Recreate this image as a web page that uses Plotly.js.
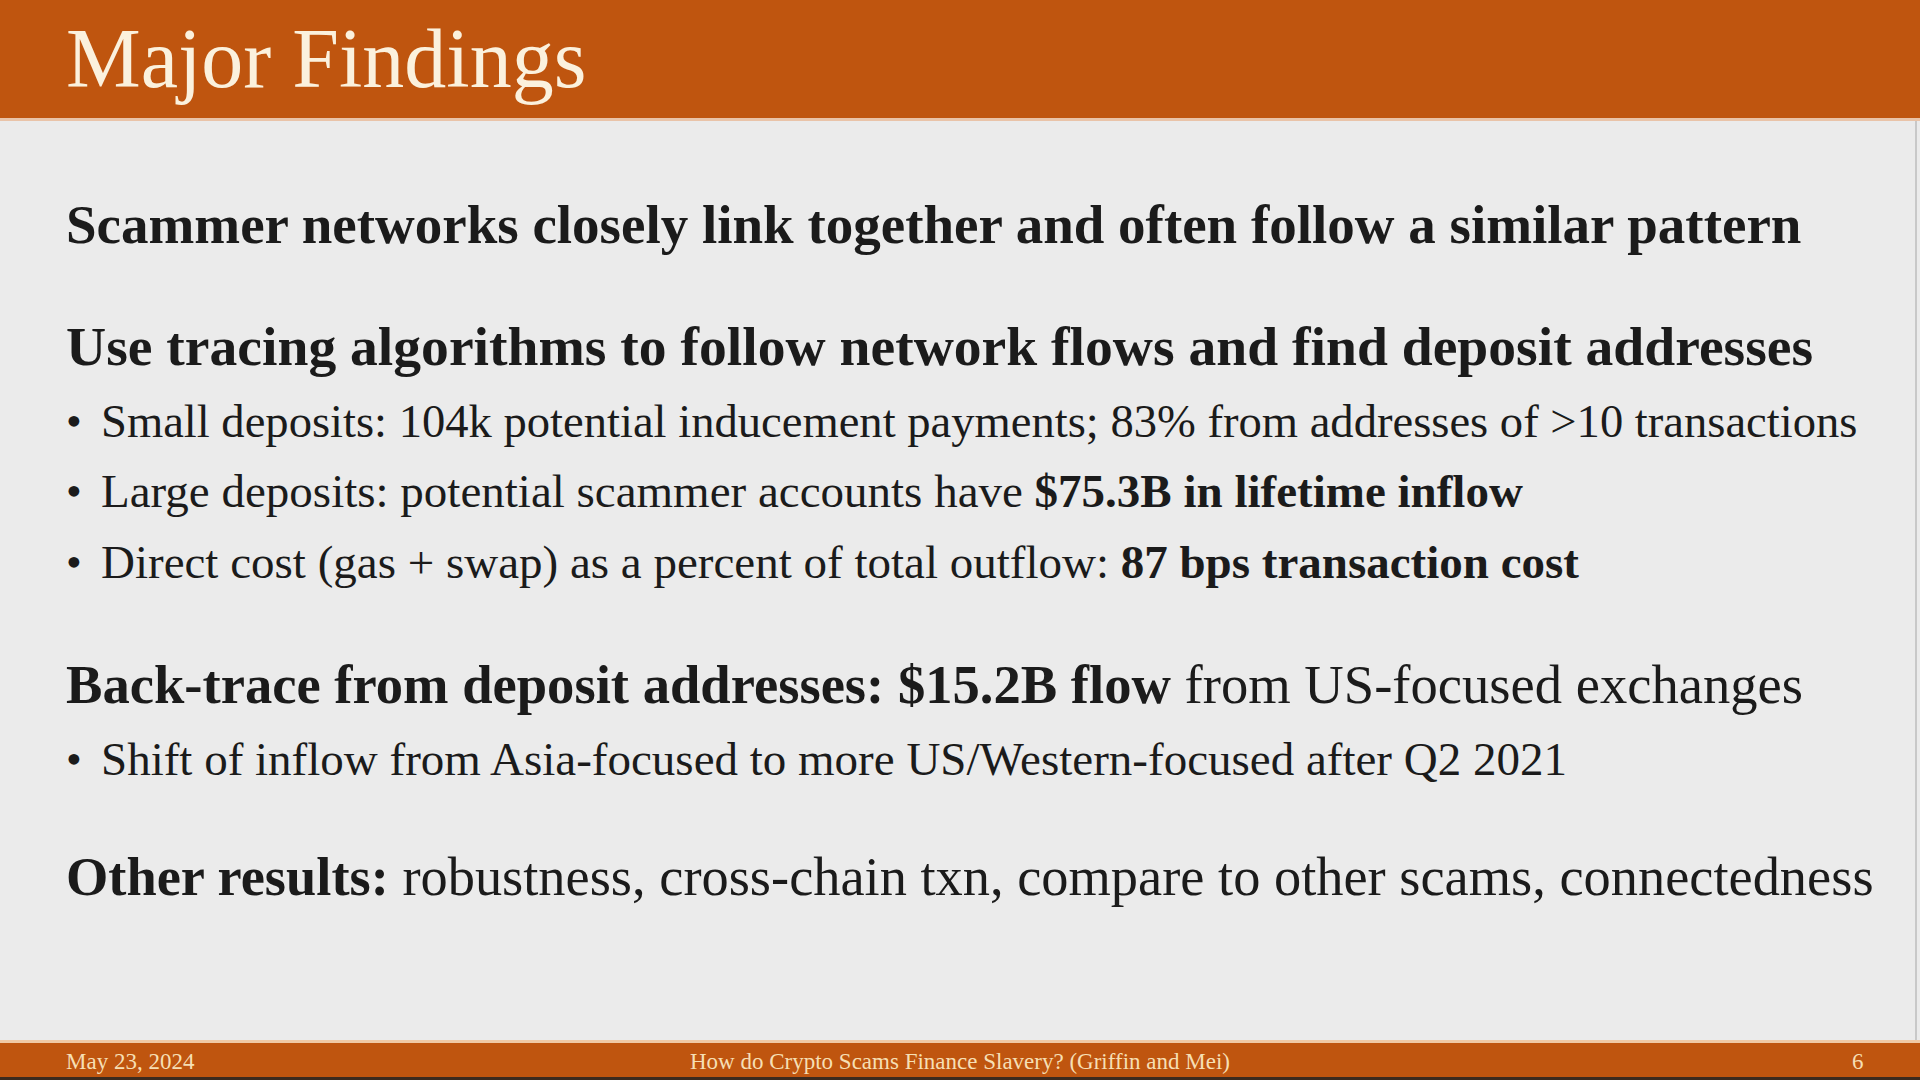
<!DOCTYPE html>
<html>
<head>
<meta charset="utf-8">
<script src="https://cdn.plot.ly/plotly-3.0.1.min.js"></script>
<style>
html,body{margin:0;padding:0;background:#ebebeb;overflow:hidden;}
#chart{width:1920px;height:1080px;}
</style>
</head>
<body>
<div id="chart"></div>
<script>
// ---- slide content ----
const slideTitle = "Major Findings";
const headings = [
  "Scammer networks closely link together and often follow a similar pattern",
  "Use tracing algorithms to follow network flows and find deposit addresses",
  "Back-trace from deposit addresses: $15.2B flow</b> from US-focused exchanges",
  "Other results:</b> robustness, cross-chain txn, compare to other scams, connectedness"
];
const bullets = [
  "Small deposits: 104k potential inducement payments; 83% from addresses of >10 transactions",
  "Large deposits: potential scammer accounts have <b>$75.3B in lifetime inflow</b>",
  "Direct cost (gas + swap) as a percent of total outflow: <b>87 bps transaction cost</b>",
  "Shift of inflow from Asia-focused to more US/Western-focused after Q2 2021"
];
const footerDate = "May 23, 2024";
const footerTitle = "How do Crypto Scams Finance Slavery? (Griffin and Mei)";
const footerPage = "6";

// ---- layout (pixel positions of text centres, font sizes) ----
const headingY = [224, 346, 684, 877];
const headingSize = [55, 55.6, 54.6, 54.4];
const bulletY = [421, 491, 562, 759];
const bulletSize = [46.6, 47, 47, 47];

const serif = "Liberation Serif, DejaVu Serif, serif";
const dark = "#1b1b1b";
const orange = "#bf550f";

const ann = [];
ann.push({x: 64, y: 58, text: slideTitle, xanchor: "left", yanchor: "middle",
  showarrow: false, font: {family: serif, size: 84, color: "#fbf1dd"}});
headings.forEach((h, i) => {
  ann.push({x: 64, y: headingY[i], text: "<b>" + h + (h.indexOf("</b>") < 0 ? "</b>" : ""),
    xanchor: "left", yanchor: "middle", showarrow: false,
    font: {family: serif, size: headingSize[i], color: dark}});
});
bullets.forEach((b, i) => {
  ann.push({x: 64, y: bulletY[i], text: "•", xanchor: "left", yanchor: "middle",
    showarrow: false, font: {family: serif, size: 45, color: dark}});
  ann.push({x: 99, y: bulletY[i], text: b, xanchor: "left", yanchor: "middle",
    showarrow: false, font: {family: serif, size: bulletSize[i], color: dark}});
});
const footFont = {family: serif, size: 23, color: "#f6dfb4"};
ann.push({x: 64, y: 1061, text: footerDate, xanchor: "left", yanchor: "middle", showarrow: false, font: footFont});
ann.push({x: 960, y: 1061, text: footerTitle, xanchor: "center", yanchor: "middle", showarrow: false, font: footFont});
ann.push({x: 1858, y: 1061, text: footerPage, xanchor: "center", yanchor: "middle", showarrow: false, font: footFont});

const shapes = [
  {type: "rect", x0: 0, x1: 1920, y0: 0, y1: 118, fillcolor: orange, line: {width: 0}, layer: "below"},
  {type: "rect", x0: 0, x1: 1920, y0: 118, y1: 121, fillcolor: "#e9c3a8", line: {width: 0}, layer: "below"},
  {type: "rect", x0: 0, x1: 1920, y0: 1040, y1: 1043, fillcolor: "#f0c9a4", line: {width: 0}, layer: "below"},
  {type: "rect", x0: 0, x1: 1920, y0: 1043, y1: 1080, fillcolor: orange, line: {width: 0}, layer: "below"},
  {type: "rect", x0: 0, x1: 1920, y0: 1077, y1: 1080, fillcolor: "#3b2a1e", line: {width: 0}, layer: "below"},
  {type: "line", x0: 1916, x1: 1916, y0: 121, y1: 1040, line: {color: "#c8c8c8", width: 2}, layer: "below"}
];

const layout = {
  width: 1920, height: 1080,
  margin: {l: 0, r: 0, t: 0, b: 0},
  paper_bgcolor: "#ebebeb", plot_bgcolor: "#ebebeb",
  xaxis: {range: [0, 1920], visible: false, fixedrange: true},
  yaxis: {range: [1080, 0], visible: false, fixedrange: true},
  showlegend: false,
  annotations: ann,
  shapes: shapes
};
Plotly.newPlot("chart", [], layout, {displayModeBar: false, staticPlot: true});
</script>
</body>
</html>
